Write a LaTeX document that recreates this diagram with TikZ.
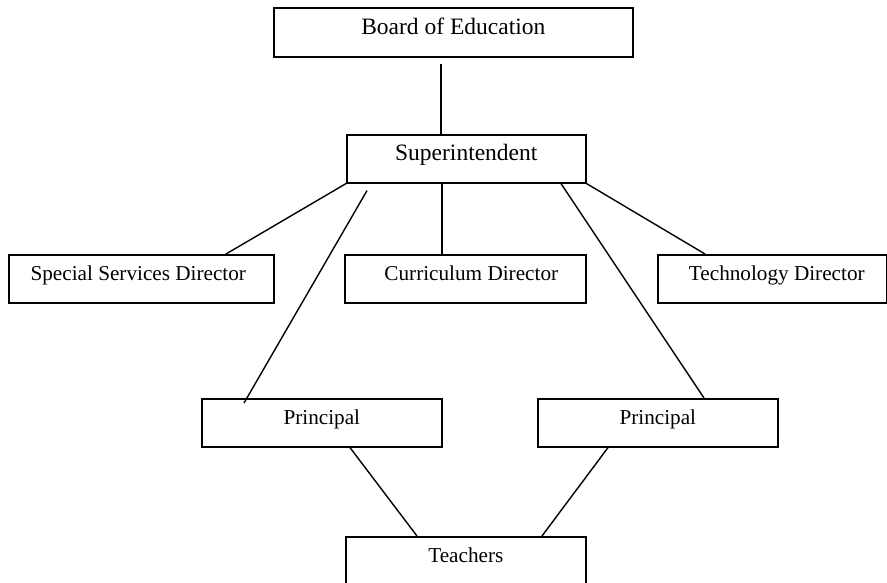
\documentclass[tikz,border=0pt]{standalone}
\usepackage{fontspec}
\setmainfont{Liberation Serif}
\usetikzlibrary{calc}
\begin{document}
\begin{tikzpicture}[x=1pt,y=-1pt,
  box/.style={draw,line width=1.6pt,rectangle,inner sep=0pt,anchor=north west,
    text height=0.7em,text depth=0.35em,minimum height=48pt},
  bigtxt/.style={font=\fontsize{23.5}{28}\selectfont},
  smalltxt/.style={font=\fontsize{21.2}{25}\selectfont},
  link/.style={line width=1.4pt}]
\useasboundingbox (0,0) rectangle (887,582);
\clip (0,0) rectangle (887,582);
\fill[white] (0,0) rectangle (887,582);

\node[box,bigtxt,minimum width=359pt,minimum height=49pt] (board) at (273,7) {Board of Education};
\node[box,bigtxt,minimum width=239pt] (sup) at (346,134) {Superintendent};
\node[box,smalltxt,minimum width=265pt] (spec) at (8,254) {Special Services Director\hspace*{6pt}};
\node[box,smalltxt,minimum width=241pt] (cur) at (344,254) {\hspace*{12pt}Curriculum Director};
\node[box,smalltxt,minimum width=229pt] (tech) at (657,254) {\hspace*{9pt}Technology Director};
\node[box,smalltxt,minimum width=240pt] (pl) at (201,398) {Principal};
\node[box,smalltxt,minimum width=240pt] (pr) at (537,398) {Principal};
\node[box,smalltxt,minimum width=240pt] (teach) at (345,536) {Teachers};

\draw[link] ($(board.south west)+(168,6)$) -- ($(sup.north west)+(95,0)$);
\draw[link] (sup.south west) -- ($(spec.north west)+(218,0)$);
\draw[link] ($(sup.south west)+(96,0)$) -- ($(cur.north west)+(98,0)$);
\draw[link] (sup.south east) -- ($(tech.north west)+(48,0)$);
\draw[link] ($(sup.south west)+(21,7)$) -- ($(pl.north west)+(43,5)$);
\draw[link] ($(sup.south west)+(215,0)$) -- ($(pr.north west)+(167,0)$);
\draw[link] ($(pl.south west)+(149,0)$) -- ($(teach.north west)+(72,0)$);
\draw[link] ($(pr.south west)+(71,0)$) -- ($(teach.north west)+(197,0)$);
\end{tikzpicture}
\end{document}
